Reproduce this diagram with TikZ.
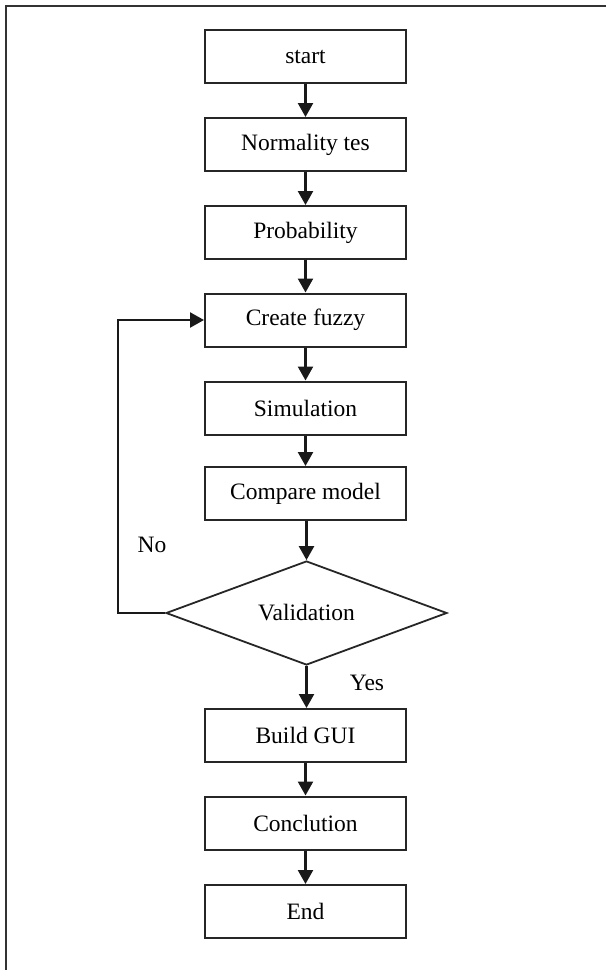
\documentclass[tikz,border=0pt]{standalone}
\usepackage{fontspec}
\setmainfont{Liberation Serif}
\usetikzlibrary{shapes.geometric,arrows.meta}
\begin{document}
\begin{tikzpicture}[x=1pt,y=-1pt,
  stepbox/.style={draw=black!85,line width=2pt,minimum width=201pt,minimum height=53pt,inner sep=0pt,font=\fontsize{23.5}{26}\selectfont},
  decision/.style={draw=black!85,line width=1.8pt,diamond,minimum width=281pt,minimum height=104pt,inner sep=0pt,aspect=2.7,font=\fontsize{23.5}{26}\selectfont},
  flow/.style={draw=black!90,line width=2.4pt,-{Triangle[length=14pt,width=15pt]}},
  lbl/.style={font=\fontsize{23.5}{26}\selectfont}]
\useasboundingbox (0,0) rectangle (606,970);
\draw[black!80,line width=2.2pt] (6,970) -- (6,6) -- (606,6);
\node[stepbox] (start) at (305.5,56.5) {start};
\node[stepbox] (norm) at (305.5,144.5) {Normality tes};
\node[stepbox] (prob) at (305.5,232.5) {Probability};
\node[stepbox] (fuzzy) at (305.5,320) {Create fuzzy};
\node[stepbox] (sim) at (305.5,408) {Simulation};
\node[stepbox] (comp) at (305.5,493.5) {Compare model};
\node[decision] (val) at (306.5,613) {Validation};
\node[stepbox] (gui) at (305.5,735.5) {Build GUI};
\node[stepbox] (conc) at (305.5,823) {Conclution};
\node[stepbox] (end) at (305.5,911.5) {End};
\draw[flow] (start) -- (norm);
\draw[flow] (norm) -- (prob);
\draw[flow] (prob) -- (fuzzy);
\draw[flow] (fuzzy) -- (sim);
\draw[flow] (sim) -- (comp);
\draw[flow] (comp.south -| val.north) -- (val.north);
\draw[flow] (val.south) -- (val.south |- gui.north);
\draw[flow] (gui) -- (conc);
\draw[flow] (conc) -- (end);
\coordinate (turn) at (118,613);
\draw[flow] (val.west) -- (turn) |- (fuzzy.west);
\node[lbl] (no) at (152,545) {No};
\node[lbl] (yes) at (367,683) {Yes};
\end{tikzpicture}
\end{document}
